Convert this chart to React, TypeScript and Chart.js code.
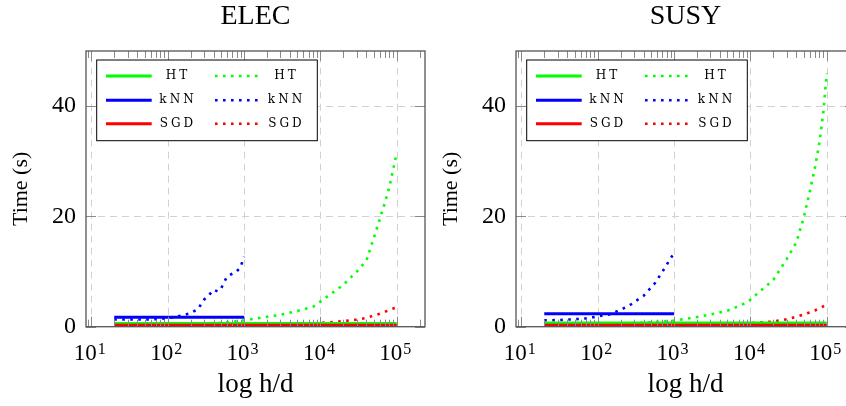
import React, { useEffect, useRef } from 'react';
import { Chart, registerables } from 'chart.js';

Chart.register(...registerables);

const SERIF = "'Liberation Serif', 'Times New Roman', serif";
const LEGEND_FONT = "'DejaVu Serif', 'Liberation Serif', serif";

// ---- axes / labels ----
const xTickBase = '10';
const xTickExponents = ['1', '2', '3', '4', '5'];
const xTickValues = [10, 100, 1000, 10000, 100000];
const yTickValues = [0, 20, 40];
const yMin = 0;
const yMax = 50;
const xTitle = 'log h/d';
const yTitle = 'Time (s)';
const legendLabels = ['HT', 'kNN', 'SGD'];
const seriesColors = ['#00ff00', '#0000ff', '#ff0000'];

// ---- sample positions (h/d) ----
const hdFull = [20, 50, 100, 200, 500, 1000, 2000, 3000, 5000, 7000, 8000, 10000, 20000, 30000, 40000, 50000, 60000, 70000, 80000, 90000, 100000];
const hdKnn = [20, 30, 50, 70, 100, 150, 200, 250, 300, 350, 400, 450, 500, 550, 600, 700, 800, 900, 1000];
const hdSolidFull = [20, 100000];
const hdSolidKnn = [20, 1000];

// ---- ELEC ----
const elecTitle = 'ELEC';
const elecHtSolid = [0.6, 0.6];
const elecKnnSolid = [1.7, 1.7];
const elecSgdSolid = [0.25, 0.25];
const elecHtDotted = [0.3, 0.35, 0.45, 0.5, 0.7, 1.15, 1.8, 2.15, 2.85, 3.4, 3.6, 4.55, 7.6, 10.0, 11.95, 16.1, 19.5, 22.5, 25.3, 28.6, 31.5];
const elecKnnDotted = [1.3, 1.3, 1.3, 1.35, 1.55, 2.0, 2.45, 3.2, 4.9, 5.8, 6.7, 6.4, 6.9, 8.1, 9.1, 9.6, 10.0, 10.8, 12.7];
const elecSgdDotted = [0.15, 0.2, 0.2, 0.25, 0.3, 0.35, 0.4, 0.45, 0.55, 0.6, 0.63, 0.67, 1.0, 1.28, 1.6, 2.0, 2.35, 2.7, 3.0, 3.3, 3.5];

// ---- SUSY ----
const susyTitle = 'SUSY';
const susyHtSolid = [0.67, 0.67];
const susyKnnSolid = [2.35, 2.35];
const susySgdSolid = [0.25, 0.25];
const susyHtDotted = [0.35, 0.4, 0.5, 0.6, 0.8, 1.1, 1.75, 2.2, 2.9, 3.7, 4.1, 4.9, 8.5, 12.3, 15.3, 19.8, 24.5, 28.8, 33.3, 38.8, 46.0];
const susyKnnDotted = [1.15, 1.2, 1.35, 1.5, 1.85, 2.3, 3.1, 3.7, 4.4, 5.1, 5.6, 6.4, 7.1, 7.7, 8.5, 9.9, 11.2, 12.4, 13.3];
const susySgdDotted = [0.2, 0.2, 0.25, 0.25, 0.3, 0.35, 0.4, 0.45, 0.5, 0.55, 0.6, 0.65, 0.93, 1.35, 1.8, 2.2, 2.6, 2.95, 3.3, 3.7, 4.0];

// enlarge x limits by 10% of the log range (pgfplots default)
const logLo = Math.log10(hdFull[0]);
const logHi = Math.log10(hdFull[hdFull.length - 1]);
const logPad = 0.1 * (logHi - logLo);
const xMin = Math.pow(10, logLo - logPad);
const xMax = Math.pow(10, logHi + logPad);

const pts = (xs: number[], ys: number[]) => xs.map((x, i) => ({ x, y: ys[i] }));

function spacedText(ctx: CanvasRenderingContext2D, text: string, cx: number, y: number, spacing: number) {
  (ctx as any).letterSpacing = '0px';
  const w0 = ctx.measureText(text).width;
  const total = w0 + spacing * (text.length - 1);
  (ctx as any).letterSpacing = spacing + 'px';
  ctx.textAlign = 'left';
  ctx.fillText(text, cx - total / 2, y);
  (ctx as any).letterSpacing = '0px';
}

const decorPlugin = {
  id: 'decor',
  beforeDatasetsDraw(chart: any) {
    const { ctx, chartArea: ca, scales } = chart;
    const xs = scales.x;
    const ys = scales.y;
    ctx.save();
    ctx.beginPath();
    ctx.rect(ca.left, ca.top, ca.right - ca.left, ca.bottom - ca.top);
    ctx.clip();
    ctx.strokeStyle = '#d2d2d2';
    ctx.lineWidth = 1;
    ctx.setLineDash([7, 5]);
    xTickValues.forEach((v) => {
      const px = Math.round(xs.getPixelForValue(v)) + 0.5;
      ctx.beginPath();
      ctx.moveTo(px, ca.bottom);
      ctx.lineTo(px, ca.top);
      ctx.stroke();
    });
    yTickValues.forEach((v) => {
      if (v === yMin) return;
      const py = Math.round(ys.getPixelForValue(v)) + 0.5;
      ctx.beginPath();
      ctx.moveTo(ca.left, py);
      ctx.lineTo(ca.right, py);
      ctx.stroke();
    });
    ctx.restore();
  },
  afterDatasetsDraw(chart: any) {
    const { ctx, chartArea: ca, scales } = chart;
    const xs = scales.x;
    const ys = scales.y;
    ctx.save();
    ctx.setLineDash([]);
    ctx.strokeStyle = '#8a8a8a';
    ctx.lineWidth = 1;
    // minor ticks
    for (let d = 0; d <= 5; d++) {
      for (let m = 2; m <= 9; m++) {
        const v = m * Math.pow(10, d);
        if (v <= xMin || v >= xMax) continue;
        const px = Math.round(xs.getPixelForValue(v)) + 0.5;
        ctx.beginPath();
        ctx.moveTo(px, ca.bottom);
        ctx.lineTo(px, ca.bottom - 7);
        ctx.moveTo(px, ca.top);
        ctx.lineTo(px, ca.top + 7);
        ctx.stroke();
      }
    }
    // major ticks
    xTickValues.forEach((v) => {
      const px = Math.round(xs.getPixelForValue(v)) + 0.5;
      ctx.beginPath();
      ctx.moveTo(px, ca.bottom);
      ctx.lineTo(px, ca.bottom - 10);
      ctx.moveTo(px, ca.top);
      ctx.lineTo(px, ca.top + 10);
      ctx.stroke();
    });
    yTickValues.forEach((v) => {
      const py = Math.round(ys.getPixelForValue(v)) + 0.5;
      ctx.beginPath();
      ctx.moveTo(ca.left, py);
      ctx.lineTo(ca.left + 10, py);
      ctx.moveTo(ca.right, py);
      ctx.lineTo(ca.right - 10, py);
      ctx.stroke();
    });
    // frame
    ctx.strokeStyle = '#555555';
    ctx.lineWidth = 1.3;
    ctx.strokeRect(ca.left, ca.top, ca.right - ca.left, ca.bottom - ca.top);
    ctx.restore();
  },
  afterDraw(chart: any) {
    const { ctx, chartArea: ca, scales } = chart;
    const xs = scales.x;
    ctx.save();
    ctx.fillStyle = '#000';
    ctx.textBaseline = 'alphabetic';
    // x tick labels 10^k
    xTickValues.forEach((v, i) => {
      const px = xs.getPixelForValue(v);
      ctx.font = `23px ${SERIF}`;
      const w1 = ctx.measureText(xTickBase).width;
      ctx.font = `16px ${SERIF}`;
      const w2 = ctx.measureText(xTickExponents[i]).width;
      const start = px - 1.5 - (w1 + 1 + w2) / 2;
      ctx.textAlign = 'left';
      ctx.font = `23px ${SERIF}`;
      ctx.fillText(xTickBase, start, 360);
      ctx.font = `16px ${SERIF}`;
      ctx.fillText(xTickExponents[i], start + w1 + 1, 354);
    });
    // legend
    const lx = ca.left + 10.7;
    const ly = ca.top + 9;
    const lw = 220.6;
    const lh = 80.7;
    ctx.fillStyle = '#ffffff';
    ctx.fillRect(lx, ly, lw, lh);
    ctx.strokeStyle = '#000';
    ctx.lineWidth = 1;
    ctx.setLineDash([]);
    ctx.strokeRect(lx, ly, lw, lh);
    const rows = [16, 40.2, 63.8];
    legendLabels.forEach((lab, i) => {
      const y = ly + rows[i];
      ctx.setLineDash([]);
      ctx.strokeStyle = seriesColors[i];
      ctx.lineWidth = 3;
      ctx.beginPath();
      ctx.moveTo(lx + 9.3, y);
      ctx.lineTo(lx + 55, y);
      ctx.stroke();
      ctx.setLineDash([2.6, 5.4]);
      ctx.lineWidth = 2.6;
      ctx.beginPath();
      ctx.moveTo(lx + 118.3, y);
      ctx.lineTo(lx + 161, y);
      ctx.stroke();
      ctx.setLineDash([]);
      ctx.fillStyle = '#000';
      ctx.font = `12px ${LEGEND_FONT}`;
      ctx.textBaseline = 'middle';
      spacedText(ctx, lab, lx + 79.8, y, 3);
      spacedText(ctx, lab, lx + 188.3, y, 3);
    });
    ctx.restore();
  },
};

type PanelProps = {
  left: number;
  title: string;
  htSolid: number[];
  knnSolid: number[];
  sgdSolid: number[];
  htDotted: number[];
  knnDotted: number[];
  sgdDotted: number[];
};

function Panel(props: PanelProps) {
  const ref = useRef<HTMLCanvasElement>(null);
  useEffect(() => {
    const solid = (label: string, data: any[], color: string) => ({
      label, data, borderColor: color, backgroundColor: color, borderWidth: 3,
      pointRadius: 0, fill: false, tension: 0,
    });
    const dotted = (label: string, data: any[], color: string) => ({
      label, data, borderColor: color, backgroundColor: color, borderWidth: 2.6,
      borderDash: [2.6, 5.4], borderCapStyle: 'butt', pointRadius: 0, fill: false, tension: 0,
    });
    const chart = new Chart(ref.current as HTMLCanvasElement, {
      type: 'line',
      data: {
        datasets: [
          solid(legendLabels[2], pts(hdSolidFull, props.sgdSolid), seriesColors[2]),
          solid(legendLabels[1], pts(hdSolidKnn, props.knnSolid), seriesColors[1]),
          solid(legendLabels[0], pts(hdSolidFull, props.htSolid), seriesColors[0]),
          dotted(legendLabels[2], pts(hdFull, props.sgdDotted), seriesColors[2]),
          dotted(legendLabels[1], pts(hdKnn, props.knnDotted), seriesColors[1]),
          dotted(legendLabels[0], pts(hdFull, props.htDotted), seriesColors[0]),
        ] as any,
      },
      options: {
        animation: false,
        responsive: false,
        events: [],
        layout: { padding: { left: 0, right: 15, top: 0, bottom: 0 } },
        plugins: {
          legend: { display: false },
          tooltip: { enabled: false },
          title: {
            display: true, text: props.title, fullSize: false, color: '#000',
            font: { family: SERIF, size: 28, weight: 'normal', lineHeight: 1.2 },
            padding: { top: 0, bottom: 17.4 },
          },
        },
        scales: {
          x: {
            type: 'logarithmic', min: xMin, max: xMax,
            afterBuildTicks: (s: any) => { s.ticks = xTickValues.map((v) => ({ value: v })); },
            afterFit: (s: any) => { s.height = 79.3; },
            ticks: { display: false },
            grid: { display: false, drawTicks: false },
            border: { display: false },
            title: {
              display: true, text: xTitle, color: '#000',
              font: { family: SERIF, size: 27, weight: 'normal', lineHeight: 1.2 },
              padding: { top: 0, bottom: 4.9 },
            },
          },
          y: {
            type: 'linear', min: yMin, max: yMax,
            afterBuildTicks: (s: any) => { s.ticks = yTickValues.map((v) => ({ value: v })); },
            afterFit: (s: any) => { s.width = 86; },
            ticks: { color: '#000', font: { family: SERIF, size: 24 }, padding: 10 },
            grid: { display: false, drawTicks: false },
            border: { display: false },
            title: {
              display: true, text: yTitle, color: '#000',
              font: { family: SERIF, size: 22, weight: 'normal', lineHeight: 1.2 },
              padding: { top: 8, bottom: 0 },
            },
          },
        },
      } as any,
      plugins: [decorPlugin as any],
    });
    return () => chart.destroy();
  }, []);
  return (
    <div style={{ position: 'absolute', left: props.left, top: 0, width: 440, height: 406 }}>
      <canvas ref={ref} width={440} height={406} style={{ display: 'block', width: 440, height: 406 }} />
    </div>
  );
}

export default function App() {
  return (
    <div style={{ position: 'fixed', left: 0, top: 0, width: 846, height: 406, overflow: 'hidden', background: '#fff' }}>
      <Panel left={0} title={elecTitle} htSolid={elecHtSolid} knnSolid={elecKnnSolid} sgdSolid={elecSgdSolid}
        htDotted={elecHtDotted} knnDotted={elecKnnDotted} sgdDotted={elecSgdDotted} />
      <Panel left={430} title={susyTitle} htSolid={susyHtSolid} knnSolid={susyKnnSolid} sgdSolid={susySgdSolid}
        htDotted={susyHtDotted} knnDotted={susyKnnDotted} sgdDotted={susySgdDotted} />
    </div>
  );
}
